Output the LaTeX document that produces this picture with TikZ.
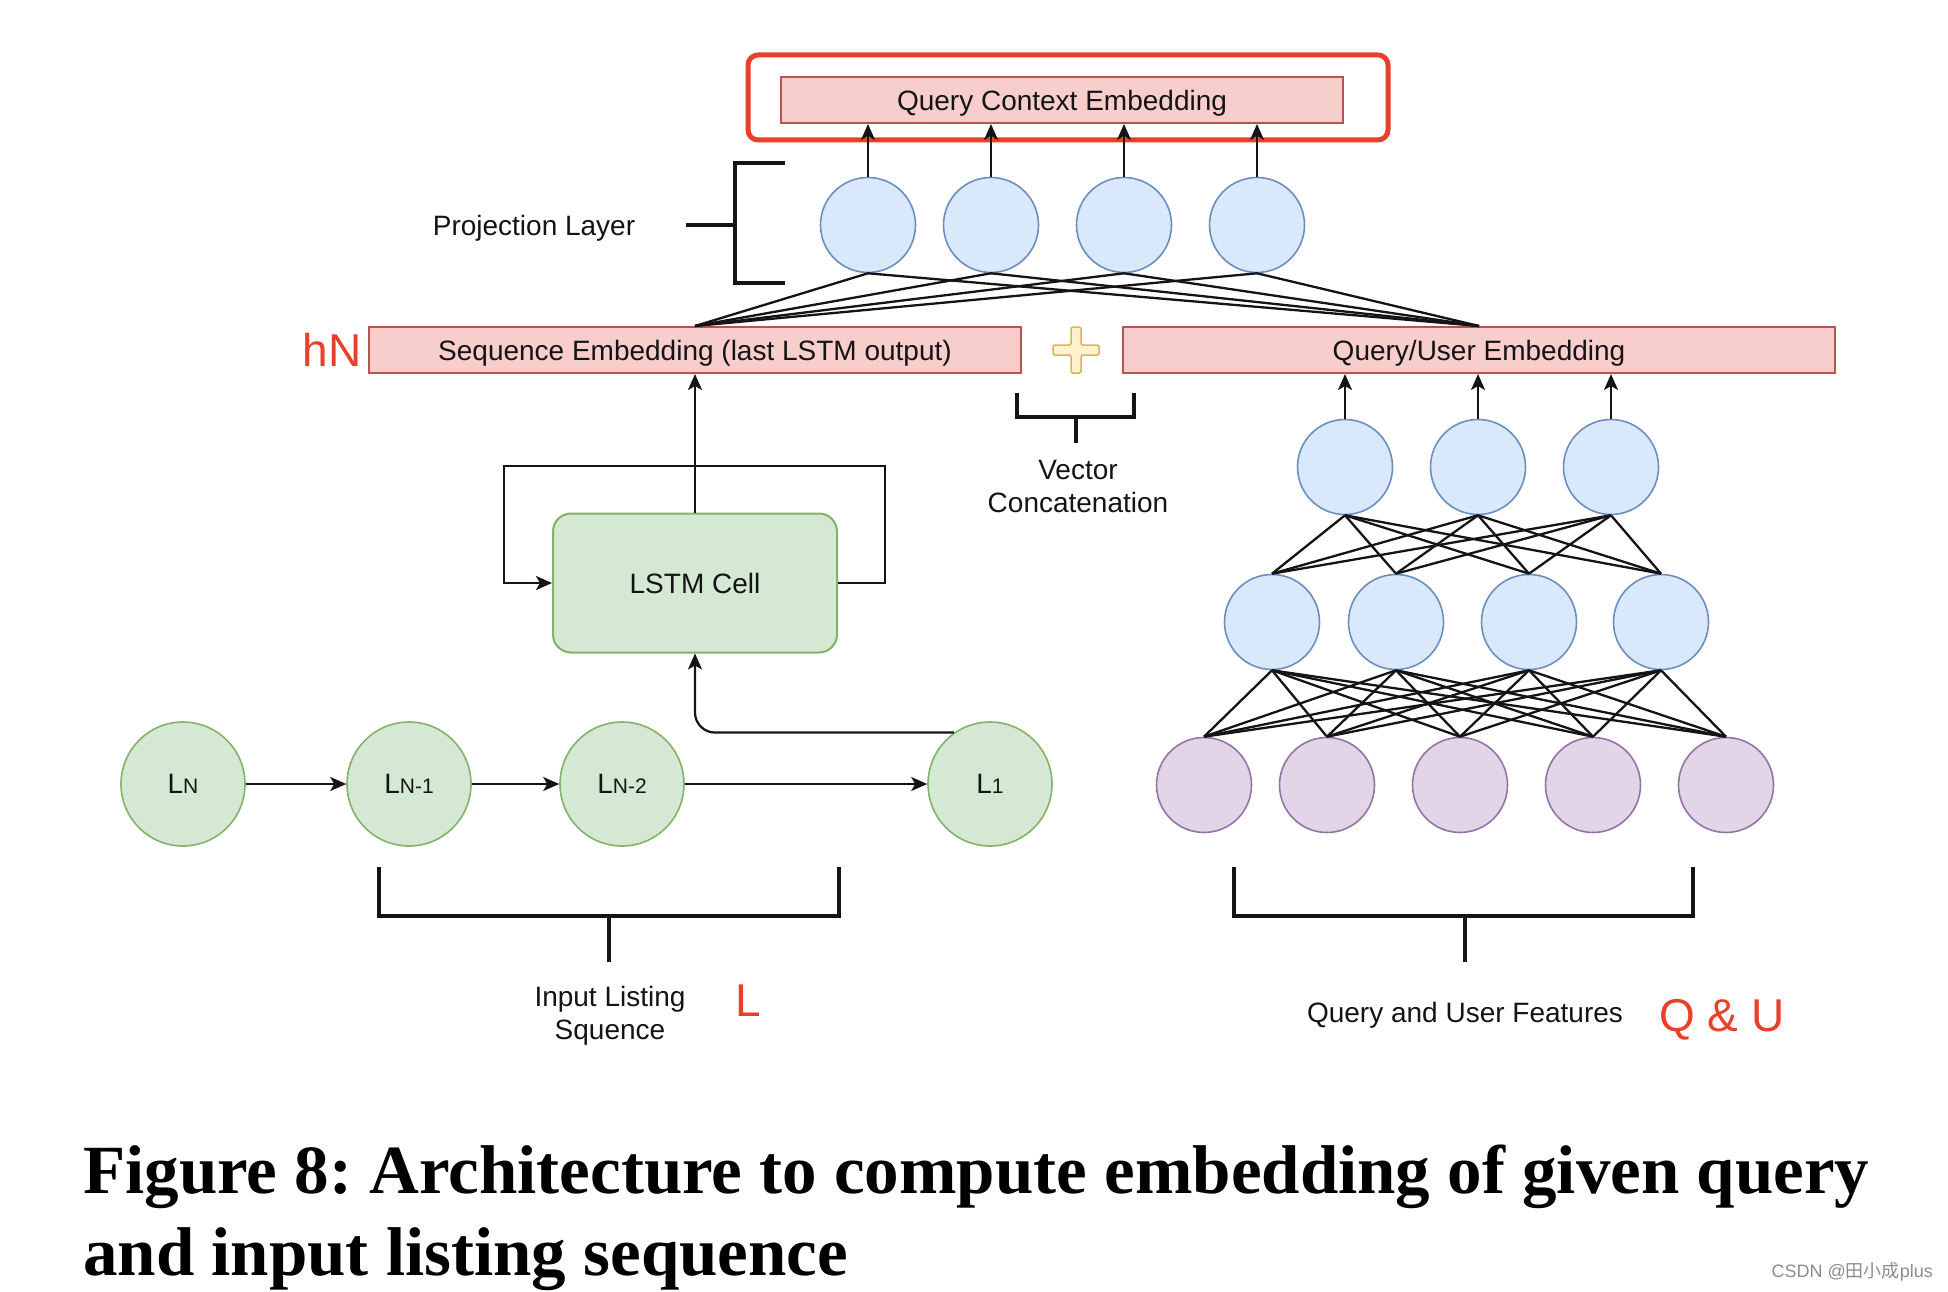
\documentclass[tikz,border=0pt]{standalone}
\usepackage{fontspec}
\setmainfont{Liberation Sans}
\newfontfamily\capfont{Liberation Serif}
\newfontfamily\cjkfont{Noto Sans CJK SC}
\usetikzlibrary{arrows.meta,calc}
\definecolor{pinkF}{HTML}{F8CECC}
\definecolor{pinkS}{HTML}{B85450}
\definecolor{blueF}{HTML}{DAE8FC}
\definecolor{blueS}{HTML}{6C8EBF}
\definecolor{greenF}{HTML}{D5E8D4}
\definecolor{greenS}{HTML}{82B366}
\definecolor{purpF}{HTML}{E1D5E7}
\definecolor{purpS}{HTML}{9673A6}
\definecolor{yelF}{HTML}{FFF2CC}
\definecolor{yelS}{HTML}{D6B656}
\definecolor{annot}{HTML}{E8402A}
\definecolor{ink}{HTML}{141414}
\newcommand\subsz{\fontsize{21}{24}\selectfont}
\frenchspacing
\begin{document}
\begin{tikzpicture}[x=1pt,y=-1pt,
  txt/.style={font=\fontsize{28}{33}\selectfont, text=ink, text depth=0pt},
  emb/.style={draw=pinkS, fill=pinkF, line width=2pt, minimum height=46pt, inner sep=0pt, txt},
  bcirc/.style={circle, draw=blueS, fill=blueF, line width=1.6pt, minimum size=95pt, inner sep=0pt},
  pcirc/.style={circle, draw=purpS, fill=purpF, line width=1.6pt, minimum size=95pt, inner sep=0pt},
  gcirc/.style={circle, draw=greenS, fill=greenF, line width=1.6pt, minimum size=124pt, inner sep=0pt, txt},
  arr/.style={-{Stealth[length=16pt,width=14pt,inset=4pt]}, line width=2.2pt, draw=ink},
  wire/.style={line width=2.3pt, draw=ink},
  brk/.style={line width=4pt, draw=ink},
  redtxt/.style={font=\fontsize{46}{50}\selectfont, text=annot, text depth=0pt}
]
\useasboundingbox (0,0) rectangle (1948,1292);
\fill[white] (0,0) rectangle (1948,1292);

% ---------- top: query context embedding ----------
\node[emb, minimum width=562pt] (qce) at (1062,100) {Query Context Embedding};
\draw[annot, line width=5pt, rounded corners=10pt] (748,55) rectangle (1388,140);

% projection layer
\node[bcirc] (p1) at (868,225) {};
\node[bcirc] (p2) at (991,225) {};
\node[bcirc] (p3) at (1124,225) {};
\node[bcirc] (p4) at (1257,225) {};
\foreach \i in {1,...,4} \draw[arr] (p\i.north) -- (p\i.north |- qce.south);

\draw[brk] (785,163) -- (735,163) -- (735,283) -- (785,283);
\draw[brk] (686,225) -- (735,225);
\node[txt] (projlbl) at (534,225) {Projection Layer};

% embeddings row
\node[emb, minimum width=652pt] (seq) at (695,350) {Sequence Embedding (last LSTM output)};
\node[emb, minimum width=712pt] (qu) at (1479,350) {Query/User Embedding};
\node[redtxt, anchor=east] (hn) at (365,350) {hN};

\foreach \i in {1,...,4} {
  \draw[wire] (p\i.south) -- (seq.north);
  \draw[wire] (p\i.south) -- (qu.north);
}

% plus sign
\draw[draw=yelS, fill=yelF, line width=1.5pt, rounded corners=1.5pt, shift={(1076,350)}]
  (-5,-23) -- (5,-23) -- (5,-5) -- (23,-5) -- (23,5) -- (5,5) -- (5,23) -- (-5,23)
  -- (-5,5) -- (-23,5) -- (-23,-5) -- (-5,-5) -- cycle;

% vector concatenation bracket
\draw[brk] (1017,393) -- (1017,417) -- (1134,417) -- (1134,393);
\draw[brk] (1076,417) -- (1076,443);
\node[txt, align=center] (vc) at (1078,486) {Vector\\Concatenation};

% ---------- right: query/user network ----------
\node[bcirc] (u1) at (1345,467) {};
\node[bcirc] (u2) at (1478,467) {};
\node[bcirc] (u3) at (1611,467) {};
\node[bcirc] (m1) at (1272,622) {};
\node[bcirc] (m2) at (1396,622) {};
\node[bcirc] (m3) at (1529,622) {};
\node[bcirc] (m4) at (1661,622) {};
\node[pcirc] (f1) at (1204,785) {};
\node[pcirc] (f2) at (1327,785) {};
\node[pcirc] (f3) at (1460,785) {};
\node[pcirc] (f4) at (1593,785) {};
\node[pcirc] (f5) at (1726,785) {};
\foreach \i in {1,2,3} \draw[arr] (u\i.north) -- (u\i.north |- qu.south);
\foreach \i in {1,...,4} \foreach \j in {1,2,3} \draw[wire] (m\i.north) -- (u\j.south);
\foreach \i in {1,...,5} \foreach \j in {1,...,4} \draw[wire] (f\i.north) -- (m\j.south);

\draw[brk] (1234,867) -- (1234,916) -- (1693,916) -- (1693,867);
\draw[brk] (1465,916) -- (1465,962);
\node[txt] (quf) at (1465,1012) {Query and User Features};
\node[redtxt] (qulbl) at (1722,1015) {Q \& U};

% ---------- left: LSTM ----------
\node[draw=greenS, fill=greenF, line width=2pt, rounded corners=18pt,
      minimum width=284pt, minimum height=139pt, txt] (lstm) at (695,583) {LSTM Cell};
\draw[arr] (lstm.north) -- (seq.south);
\coordinate (loopR) at (885,466);
\coordinate (loopL) at (504,583);
\draw[arr] (lstm.east) -| (loopR) -| (loopL) -- (lstm.west);

\node[gcirc] (ln)  at (183,784) {L{\subsz N}};
\node[gcirc] (ln1) at (409,784) {L{\subsz N-1}};
\node[gcirc] (ln2) at (622,784) {L{\subsz N-2}};
\node[gcirc] (l1)  at (990,784) {L{\subsz 1}};
\draw[arr] (ln) -- (ln1);
\draw[arr] (ln1) -- (ln2);
\draw[arr] (ln2) -- (l1);
\draw[arr, rounded corners=20pt] (l1.125) -| (lstm.south);

\draw[brk] (379,867) -- (379,916) -- (839,916) -- (839,867);
\draw[brk] (609,916) -- (609,962);
\node[txt, align=center] (ils) at (610,1013) {Input Listing\\Squence};
\node[redtxt] (llbl) at (748,1001) {L};

% ---------- caption ----------
\node[anchor=base west, font=\capfont\bfseries\fontsize{69}{82}\selectfont, inner sep=0pt] (cap1)
  at (83,1193) {Figure 8: Architecture to compute embedding of given query};
\node[anchor=base west, font=\capfont\bfseries\fontsize{69}{82}\selectfont, inner sep=0pt] (cap2)
  at (83,1275) {and input listing sequence};
\node[anchor=east, font=\fontsize{18}{20}\selectfont, text=black!45, inner sep=0pt] (wm)
  at (1933,1272) {CSDN @{\cjkfont 田小成}plus};
\end{tikzpicture}
\end{document}
